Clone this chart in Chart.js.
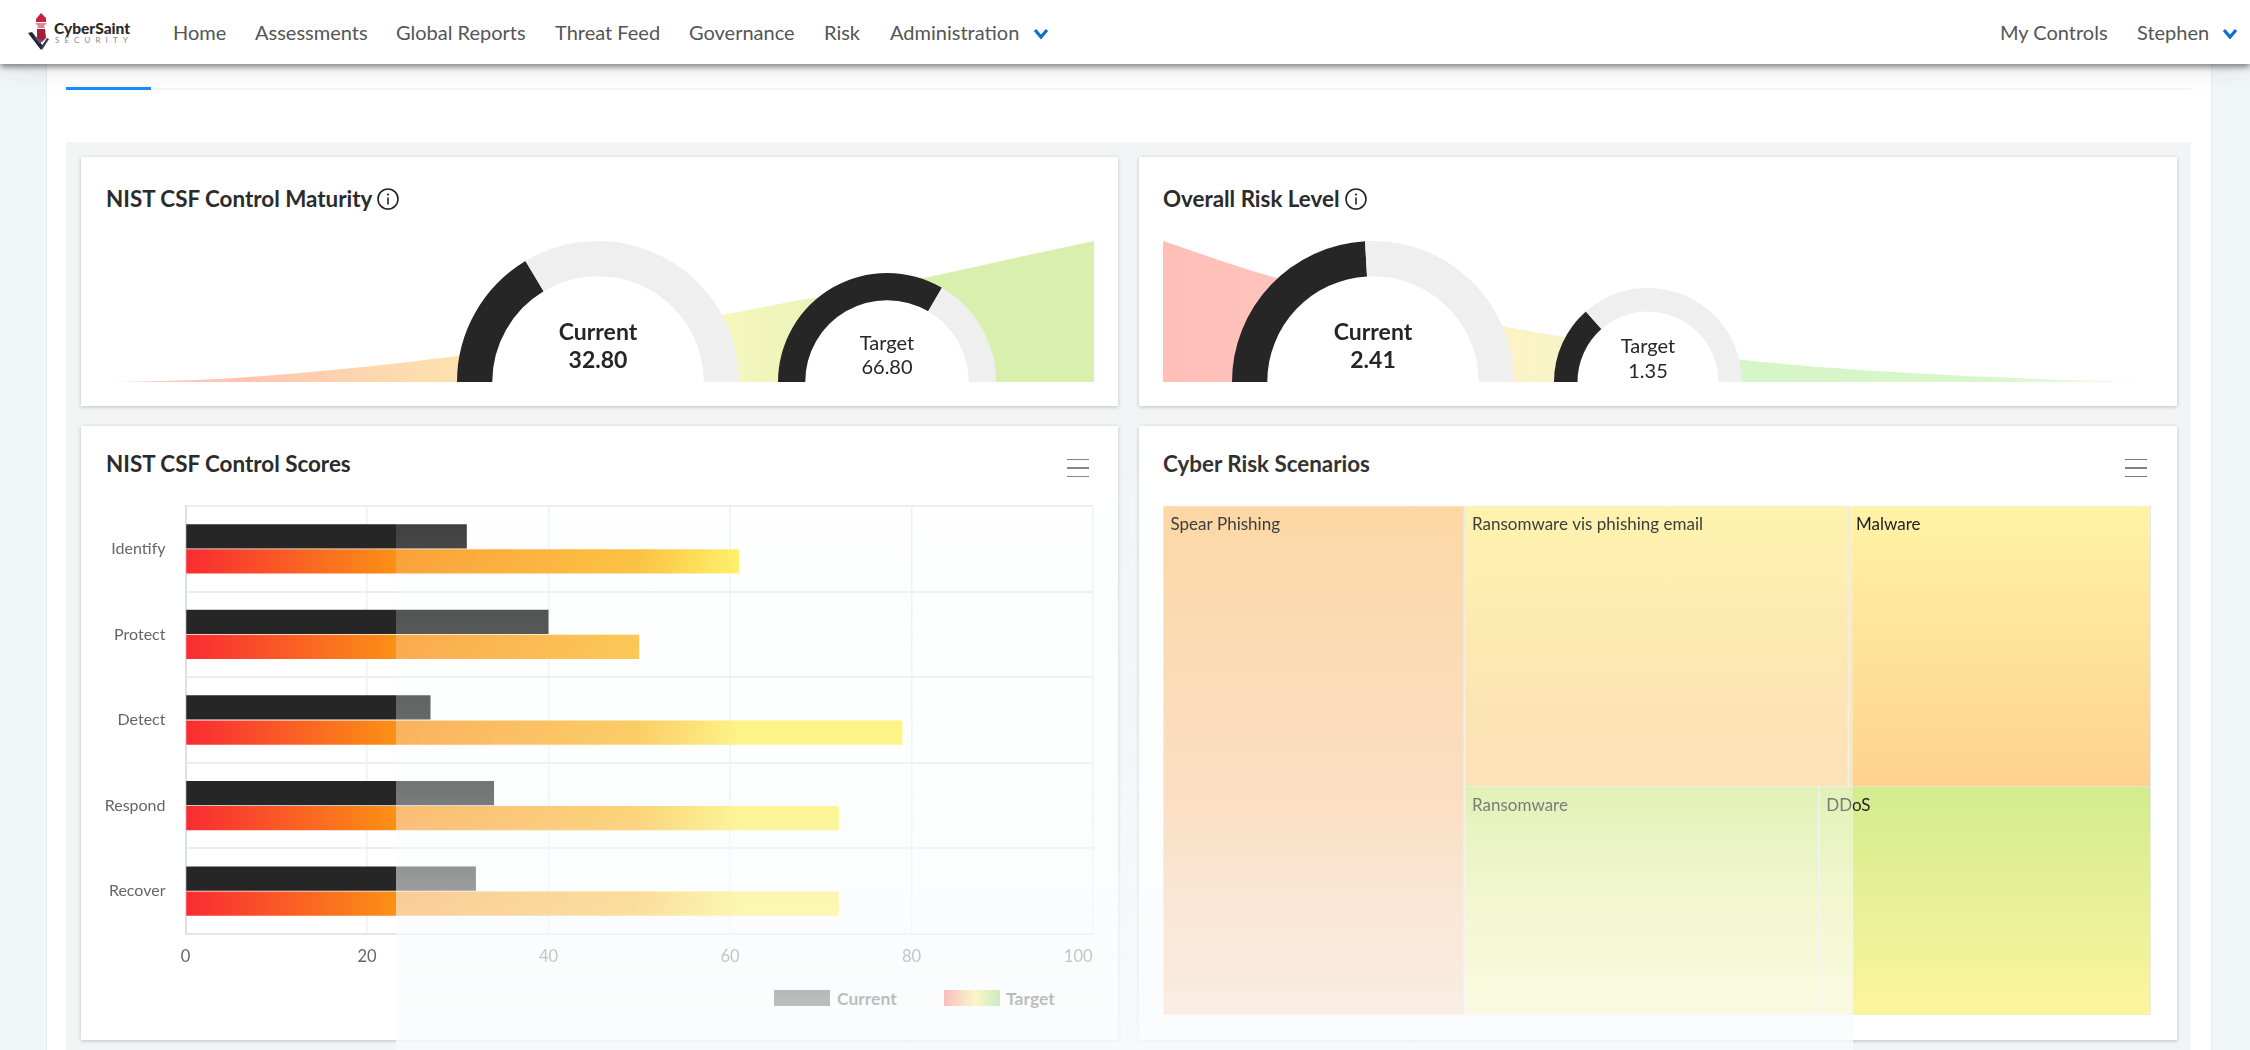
<!DOCTYPE html>
<html>
<head>
<meta charset="utf-8">
<title>CyberSaint dashboard</title>
<script src="https://cdn.jsdelivr.net/npm/chart.js@4/dist/chart.umd.min.js"></script>
<style>
  html, body { margin: 0; padding: 0; }
  body { position: relative; width: 2250px; height: 1050px; overflow: hidden; background: #f1f6f9; font-family: Lato, sans-serif; color: #222; }
  .abs, .box { position: absolute; }
  #content { left: 46px; top: 0; width: 2166px; height: 1050px; background: #fff; border-left: 1px solid #e6ebef; border-right: 1px solid #e6ebef; box-sizing: border-box; }
  #nav { left: 0; top: 0; width: 2250px; height: 64px; background: #fff; box-shadow: 0 3px 6px rgba(0,0,0,.45), 0 8px 28px rgba(0,0,0,.08); z-index: 5; }
  .nav-item { position: absolute; top: 18px; font-size: 20px; line-height: 28px; color: #555; white-space: nowrap; }
  #panel { left: 66px; top: 142px; width: 2125px; height: 908px; background: #f2f4f6; }
  .card { position: absolute; background: #fff; box-shadow: 0 1px 4px rgba(0,0,0,.22); }
  .title { position: absolute; font-size: 22.4px; line-height: 30px; font-weight: 700; color: #2b2b2b; white-space: nowrap; }
  .burger { position: absolute; width: 22px; height: 16px; border-top: 1.5px solid #808080; border-bottom: 1.5px solid #808080; }
  .burger:after { content: ""; position: absolute; left: 0; right: 0; top: 7px; height: 1.5px; background: #808080; }
  #fade { left: 396px; top: 440px; width: 1457px; height: 610px; z-index: 4; pointer-events: none;
    background: linear-gradient(rgba(249,251,252,0) 0px, rgba(249,251,252,.14) 96px, rgba(249,251,252,.226) 182px, rgba(249,251,252,.3) 268px, rgba(249,251,252,.38) 354px, rgba(249,251,252,.54) 440px, rgba(249,251,252,.64) 520px, rgba(249,251,252,.73) 574px, rgba(249,251,252,.8) 610px); }
  .legend-swatch { position: absolute; top: 990px; height: 16px; width: 56px; }
  .legend-text { position: absolute; top: 987px; font-size: 17.5px; line-height: 23px; font-weight: 700; color: #262626; }
</style>
</head>
<body>
<div id="content" class="abs"></div>
<div class="abs" style="left:66px;top:88px;width:2125px;height:2px;background:#f3f5f6"></div>
<div class="abs" style="left:66px;top:87px;width:85px;height:3px;background:#1a8cff"></div>
<div id="panel" class="abs"></div>

<div id="nav" class="abs">
  <svg class="abs" style="left:27px;top:13px" width="26" height="38" viewBox="0 0 26 38">
    <path d="M9 6 L14 0 L19 5 L19 9 L9 9 Z" fill="#c4213a"/>
    <path d="M8 10 L20 10 L17 13 L18 15 L10 15 L11 13 Z" fill="#d98a96"/>
    <path d="M10 16 L18 16 L19 25 L15 29 L10 25 Z" fill="#a81c35"/>
    <path d="M1 20 L14 37 L16 33 L5 19 Z" fill="#20203f"/>
    <path d="M7 24 L13 31 L15 28 L10 24 Z" fill="#55556f"/>
    <path d="M15 37 L22 26 L20 25 L14 34 Z" fill="#3a3a55"/>
  </svg>
  <div class="abs" style="left:54px;top:19px;font-size:15.5px;line-height:18px;font-weight:900;color:#2a2a2a">CyberSaint</div>
  <div class="abs" style="left:55px;top:35px;font-size:8px;line-height:10px;letter-spacing:5.1px;color:#8a8a8a">SECURITY</div>
  <div class="nav-item" style="left:173px">Home</div>
  <div class="nav-item" style="left:255px">Assessments</div>
  <div class="nav-item" style="left:396px">Global Reports</div>
  <div class="nav-item" style="left:555px">Threat Feed</div>
  <div class="nav-item" style="left:689px">Governance</div>
  <div class="nav-item" style="left:824px">Risk</div>
  <div class="nav-item" style="left:890px">Administration</div>
  <svg class="abs" style="left:1033px;top:28px" width="16" height="12"><polyline points="2,2 8,9 14,2" fill="none" stroke="#0b6fd6" stroke-width="3.2"/></svg>
  <div class="nav-item" style="left:2000px">My Controls</div>
  <div class="nav-item" style="left:2137px">Stephen</div>
  <svg class="abs" style="left:2222px;top:28px" width="16" height="12"><polyline points="2,2 8,9 14,2" fill="none" stroke="#0b6fd6" stroke-width="3.2"/></svg>
</div>

<div class="card" style="left:81px;top:157px;width:1037px;height:249px"></div>
<div class="card" style="left:1139px;top:157px;width:1038px;height:249px"></div>
<div class="card" style="left:81px;top:426px;width:1037px;height:614px"></div>
<div class="card" style="left:1139px;top:426px;width:1038px;height:614px"></div>

<div class="title" style="left:106px;top:184px">NIST CSF Control Maturity</div>
<svg class="abs" style="left:376px;top:187px" width="24" height="24"><circle cx="12" cy="12" r="10" fill="none" stroke="#222" stroke-width="1.6"/><circle cx="12" cy="7.5" r="1.1" fill="#222"/><line x1="12" y1="10.5" x2="12" y2="17.5" stroke="#222" stroke-width="1.6"/></svg>
<div class="title" style="left:1163px;top:184px">Overall Risk Level</div>
<svg class="abs" style="left:1344px;top:187px" width="24" height="24"><circle cx="12" cy="12" r="10" fill="none" stroke="#222" stroke-width="1.6"/><circle cx="12" cy="7.5" r="1.1" fill="#222"/><line x1="12" y1="10.5" x2="12" y2="17.5" stroke="#222" stroke-width="1.6"/></svg>
<div class="title" style="left:106px;top:449px">NIST CSF Control Scores</div>
<div class="title" style="left:1163px;top:449px">Cyber Risk Scenarios</div>
<div class="burger" style="left:1067px;top:459px"></div>
<div class="burger" style="left:2125px;top:459px"></div>

<div class="box" style="left:113px;top:241px;width:981px;height:141px"><canvas id="maturityBand"></canvas></div>
<div class="box" style="left:457px;top:241px;width:282px;height:141px"><canvas id="maturityCurrent"></canvas></div>
<div class="box" style="left:778px;top:273px;width:218px;height:109px"><canvas id="maturityTarget"></canvas></div>

<div class="box" style="left:1163px;top:241px;width:980px;height:141px"><canvas id="riskBand"></canvas></div>
<div class="box" style="left:1232px;top:241px;width:282px;height:141px"><canvas id="riskCurrent"></canvas></div>
<div class="box" style="left:1554px;top:288px;width:188px;height:94px"><canvas id="riskTarget"></canvas></div>

<div class="box" style="left:81px;top:490px;width:1037px;height:490px"><canvas id="scores"></canvas></div>
<div id="legend"></div>
<div class="box" style="left:1163px;top:506px;width:988px;height:509px;background:#e9e9e9"><canvas id="scenarios"></canvas></div>

<div id="fade" class="abs"></div>

<script>
// Values
const bandSteps = [0, 10, 20, 30, 40, 50, 60, 70, 80, 90, 100];
const maturityBandValues = [0, 2, 7, 14, 23, 34, 45, 58, 70, 85, 100];
const riskBandValues = [100, 77, 60, 46, 33, 23, 15, 9, 5, 2, 0];

const maturityCurrent = 32.80;
const maturityTarget = 66.80;
const maturityMax = 100;
const riskCurrent = 2.41;
const riskTarget = 1.35;
const riskMax = 5;

const controlCategories = ['Identify', 'Protect', 'Detect', 'Respond', 'Recover'];
const currentScores = [31, 40, 27, 34, 32];
const targetScores = [61, 50, 79, 72, 72];
const scoreTicks = [0, 20, 40, 60, 80, 100];

const scenarioNames = ['Spear Phishing', 'Ransomware vis phishing email', 'Malware', 'Ransomware', 'DDoS'];
const scenarioAreas = [30.5, 21.4, 16.85, 16.1, 15.1];

Chart.defaults.font.family = 'Lato, sans-serif';
Chart.defaults.animation = false;
Chart.defaults.plugins.legend.display = false;
Chart.defaults.plugins.tooltip.enabled = false;

function hGradient(chart, stops) {
    const area = chart.chartArea;
    if (!area) return 'transparent';
    const g = chart.ctx.createLinearGradient(area.left, 0, area.right, 0);
    stops.forEach(s => g.addColorStop(s[0], s[1]));
    return g;
}

// Soft band behind the gauges
function drawBand(id, values, stops) {
    new Chart(document.getElementById(id), {
        type: 'line',
        data: {
            datasets: [{
                data: bandSteps.map((x, i) => ({ x: x, y: values[i] })),
                borderWidth: 0,
                pointRadius: 0,
                tension: 0.3,
                fill: 'origin',
                backgroundColor: ctx => hGradient(ctx.chart, stops)
            }]
        },
        options: {
            responsive: true,
            maintainAspectRatio: false,
            scales: {
                x: { type: 'linear', display: false, min: 0, max: 100 },
                y: { display: false, min: 0, max: 100 }
            }
        }
    });
}

drawBand('maturityBand', maturityBandValues, [
    [0, '#ffd0cb'], [0.12, '#ffc4b0'], [0.33, '#fddfae'], [0.62, '#f6f7bf'], [0.85, '#d9efae'], [1, '#d9efae']
]);
drawBand('riskBand', riskBandValues, [
    [0, '#ffbfb8'], [0.12, '#ffc4bb'], [0.36, '#fdf3c6'], [0.6, '#d5f6c6'], [0.85, '#d9f6cc'], [1, '#f4fcef']
]);

// White hole and the two centre lines of a gauge
const gaugeInside = {
    id: 'gaugeInside',
    beforeDatasetsDraw(chart) {
        const arc = chart.getDatasetMeta(0).data[0];
        const ctx = chart.ctx;
        ctx.save();
        ctx.fillStyle = '#fff';
        ctx.beginPath();
        ctx.arc(arc.x, arc.y, arc.innerRadius + 1, Math.PI, 2 * Math.PI);
        ctx.fill();
        ctx.restore();
    },
    afterDraw(chart, args, opts) {
        const arc = chart.getDatasetMeta(0).data[0];
        const ctx = chart.ctx;
        ctx.save();
        ctx.textAlign = 'center';
        ctx.textBaseline = 'middle';
        ctx.fillStyle = '#262626';
        ctx.font = opts.weight + ' ' + opts.size + 'px Lato';
        ctx.fillText(opts.label, arc.x, arc.y - opts.labelUp);
        ctx.fillText(opts.value, arc.x, arc.y - opts.valueUp);
        ctx.restore();
    }
};

function drawGauge(id, value, max, label, text, size, weight, labelUp, valueUp, cutout) {
    new Chart(document.getElementById(id), {
        type: 'doughnut',
        data: {
            labels: [label, ''],
            datasets: [{
                data: [value, max - value],
                backgroundColor: ['#262626', '#efefef'],
                borderWidth: 0
            }]
        },
        options: {
            responsive: true,
            maintainAspectRatio: false,
            rotation: -90,
            circumference: 180,
            cutout: cutout,
            plugins: { gaugeInside: { label: label, value: text, size: size, weight: weight, labelUp: labelUp, valueUp: valueUp } }
        },
        plugins: [gaugeInside]
    });
}

drawGauge('maturityCurrent', maturityCurrent, maturityMax, 'Current', maturityCurrent.toFixed(2), 23, 700, 49, 21, '75%');
drawGauge('maturityTarget', maturityTarget, maturityMax, 'Target', maturityTarget.toFixed(2), 20, 400, 38, 14, '75%');
drawGauge('riskCurrent', riskCurrent, riskMax, 'Current', riskCurrent.toFixed(2), 23, 700, 49, 21, '75%');
drawGauge('riskTarget', riskTarget, riskMax, 'Target', riskTarget.toFixed(2), 20, 400, 35, 10, '75%');

// Control scores
new Chart(document.getElementById('scores'), {
    type: 'bar',
    data: {
        labels: controlCategories,
        datasets: [{
            label: 'Current',
            data: currentScores,
            backgroundColor: '#262626',
            categoryPercentage: 0.585,
            barPercentage: 0.97
        }, {
            label: 'Target',
            data: targetScores,
            categoryPercentage: 0.585,
            barPercentage: 0.97,
            backgroundColor: ctx => hGradient(ctx.chart, [
                [0, '#f92b33'], [0.23, '#fb9015'], [0.5, '#fdb820'], [0.61, '#fff04f'], [1, '#fff04f']
            ])
        }]
    },
    options: {
        indexAxis: 'y',
        responsive: true,
        maintainAspectRatio: false,
        layout: { padding: { top: 16, right: 25 } },
        scales: {
            x: {
                min: 0,
                max: 100,
                afterBuildTicks: scale => { scale.ticks = scoreTicks.map(v => ({ value: v })); },
                afterFit: scale => { scale.height = 46; scale.paddingLeft = 0; scale.paddingRight = 0; },
                grid: { color: '#eef0f3', lineWidth: 1.5, drawTicks: false },
                border: { color: '#e3e6ec', width: 2 },
                ticks: {
                    padding: 13,
                    maxRotation: 0,
                    color: '#666',
                    font: { size: 16.5 },
                    // last label sits flush with the plot edge
                    callback: v => v === 100 ? '100' + ' '.repeat(7) : String(v)
                }
            },
            y: {
                afterFit: scale => { scale.width = 104.5; scale.paddingTop = 0; scale.paddingBottom = 0; },
                grid: { color: '#eceef1', lineWidth: 2, drawTicks: false },
                border: { color: '#dde1e8', width: 2 },
                ticks: { padding: 20, color: '#666', font: { size: 16 } }
            }
        }
    }
});

document.getElementById('legend').innerHTML = `
    <div class="legend-swatch" style="left:774px;background:#262626"></div>
    <div class="legend-text" style="left:837px">Current</div>
    <div class="legend-swatch" style="left:944px;background:linear-gradient(90deg,#f92b33,#ffe94f 55%,#5fc83a)"></div>
    <div class="legend-text" style="left:1006px">Target</div>`;

// Treemap of scenarios, each cell a filled two point line on linear scales
function layoutScenarios(areas) {
    const total = areas.reduce((a, b) => a + b, 0);
    const first = areas[0] / total * 100;
    const rest = total - areas[0];
    const topShare = (areas[1] + areas[2]) / rest * 100;
    const split = 100 - topShare;
    const topW = (100 - first) / (areas[1] + areas[2]);
    const botW = (100 - first) / (areas[3] + areas[4]);
    return [
        { x0: 0, x1: first, y0: 0, y1: 100 },
        { x0: first, x1: first + areas[1] * topW, y0: split, y1: 100 },
        { x0: first + areas[1] * topW, x1: 100, y0: split, y1: 100 },
        { x0: first, x1: first + areas[3] * botW, y0: 0, y1: split },
        { x0: first + areas[3] * botW, x1: 100, y0: 0, y1: split }
    ];
}

const scenarioCells = layoutScenarios(scenarioAreas);
const scenarioColors = [
    ['#fdd49a', '#f9c8a3'],
    ['#fff3a6', '#fed28e'],
    ['#fff3a6', '#fed28e'],
    ['#d2ec8d', '#fdf59d'],
    ['#d2ec8d', '#fdf59d']
];
const cellGap = 0.08;

const scenarioLabels = {
    id: 'scenarioLabels',
    afterDatasetsDraw(chart) {
        const { ctx, scales } = chart;
        ctx.save();
        ctx.font = '17px Lato';
        ctx.fillStyle = '#222';
        ctx.textBaseline = 'middle';
        scenarioCells.forEach((c, i) => {
            ctx.fillText(scenarioNames[i], scales.x.getPixelForValue(c.x0) + 7.5, scales.y.getPixelForValue(c.y1) + 19);
        });
        ctx.restore();
    }
};

new Chart(document.getElementById('scenarios'), {
    type: 'line',
    data: {
        datasets: scenarioCells.map((c, i) => ({
            label: scenarioNames[i],
            data: [{ x: c.x0 + cellGap, y: c.y1 - cellGap }, { x: c.x1 - cellGap, y: c.y1 - cellGap }],
            fill: { value: c.y0 + cellGap },
            borderWidth: 0,
            pointRadius: 0,
            backgroundColor: ctx => {
                const { chart } = ctx;
                if (!chart.chartArea) return 'transparent';
                const top = chart.scales.y.getPixelForValue(c.y1);
                const bottom = chart.scales.y.getPixelForValue(c.y0);
                const g = chart.ctx.createLinearGradient(0, top, 0, bottom);
                g.addColorStop(0, scenarioColors[i][0]);
                g.addColorStop(1, scenarioColors[i][1]);
                return g;
            }
        }))
    },
    options: {
        responsive: true,
        maintainAspectRatio: false,
        scales: {
            x: { type: 'linear', display: false, min: 0, max: 100 },
            y: { display: false, min: 0, max: 100 }
        }
    },
    plugins: [scenarioLabels]
});
</script>
</body>
</html>
